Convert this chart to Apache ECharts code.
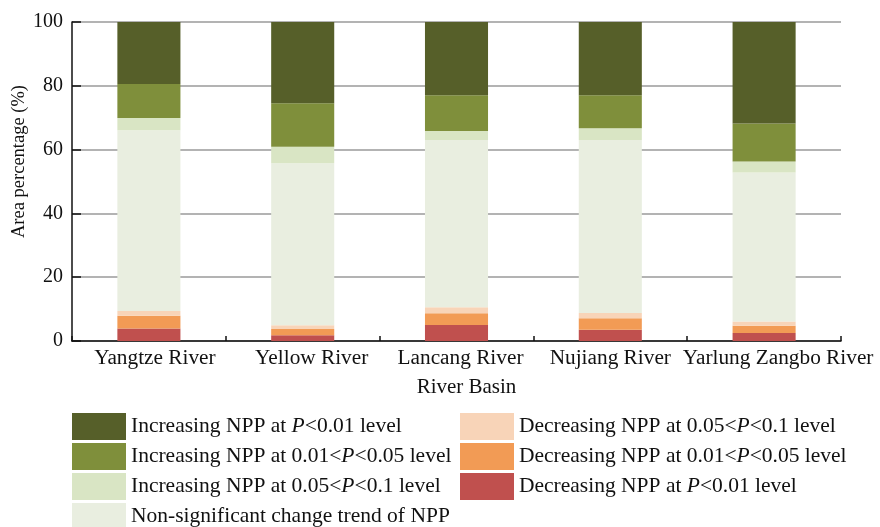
<!DOCTYPE html>
<html>
<head>
<meta charset="utf-8">
<script src="https://cdn.jsdelivr.net/npm/echarts@6/dist/echarts.min.js"></script>
<style>
  html, body { margin: 0; padding: 0; background: #fff; }
  #chart { width: 880px; height: 527px; }
</style>
</head>
<body>
<div id="chart"></div>
<script>
// Basins along the x axis
const basins = ['Yangtze River', 'Yellow River', 'Lancang River', 'Nujiang River', 'Yarlung Zangbo River'];

// Area share (%) of each NPP trend class per basin, stacked bottom to top
const decP001   = [3.9, 1.8, 5.0, 3.5, 2.5];
const decP005   = [4.0, 2.0, 3.7, 3.6, 2.3];
const decP01    = [1.5, 1.1, 1.9, 1.7, 1.3];
const nonSig    = [56.7, 50.8, 52.4, 54.2, 46.7];
const incP01    = [3.8, 5.2, 2.8, 3.7, 3.5];
const incP005   = [10.7, 13.6, 11.2, 10.3, 11.9];
const incP001   = [19.4, 25.5, 23.0, 23.0, 31.8];

const yTicks = [0, 20, 40, 60, 80, 100];

// Series names (legend text, with italic P)
const names = {
  incP001: 'Increasing NPP at {i|P}<0.01 level',
  incP005: 'Increasing NPP at 0.01<{i|P}<0.05 level',
  incP01:  'Increasing NPP at 0.05<{i|P}<0.1 level',
  nonSig:  'Non-significant change trend of NPP',
  decP01:  'Decreasing NPP at 0.05<{i|P}<0.1 level',
  decP005: 'Decreasing NPP at 0.01<{i|P}<0.05 level',
  decP001: 'Decreasing NPP at {i|P}<0.01 level'
};

const colors = {
  incP001: '#565f29',
  incP005: '#7f8f3b',
  incP01:  '#d9e5c4',
  nonSig:  '#e9eee0',
  decP01:  '#f8d4b8',
  decP005: '#f29b55',
  decP001: '#c0504e'
};

const stackOrder = [
  ['decP001', decP001], ['decP005', decP005], ['decP01', decP01],
  ['nonSig', nonSig], ['incP01', incP01], ['incP005', incP005], ['incP001', incP001]
];

const font = '"Liberation Serif", "Times New Roman", serif';

// Small rightward nudges (px) for the category labels
const labelNudge = [6, 9, 4, 0, 14];
const labelRich = {};
labelNudge.forEach((d, i) => {
  labelRich['c' + i] = {
    fontFamily: font, fontSize: 21.3, color: '#111',
    padding: [0, 0, 0, d * 2]
  };
});

const series = stackOrder.map(([key, vals]) => ({
  name: names[key],
  type: 'bar',
  stack: 'area',
  barWidth: '41%',
  data: vals,
  itemStyle: { color: colors[key] },
  emphasis: { disabled: true }
}));

const legendText = {
  fontFamily: font, fontSize: 21.5, color: '#111',
  rich: { i: { fontFamily: font, fontSize: 21.5, fontStyle: 'italic', color: '#111' } }
};

const legendBase = {
  orient: 'vertical', top: 413, height: 130, padding: 0,
  itemWidth: 54, itemHeight: 27, itemGap: 3, itemTextGap: 4, icon: 'rect',
  textStyle: legendText
};

const chart = echarts.init(document.getElementById('chart'), null, { renderer: 'canvas' });
chart.setOption({
  animation: false,
  backgroundColor: '#fff',
  grid: { left: 72, right: 39, top: 22, bottom: 186, containLabel: false, outerBoundsMode: 'none' },
  legend: [
    Object.assign({}, legendBase, {
      left: 72,
      data: [names.incP001, names.incP005, names.incP01, names.nonSig]
    }),
    Object.assign({}, legendBase, {
      left: 460,
      data: [names.decP01, names.decP005, names.decP001]
    })
  ],
  xAxis: [
    {
      type: 'category',
      data: basins,
      name: 'River Basin',
      nameLocation: 'middle',
      nameGap: 36,
      nameMoveOverlap: false,
      nameTextStyle: { fontFamily: font, fontSize: 21, color: '#111', padding: [0, 0, 0, 20] },
      axisLine: { lineStyle: { color: '#111', width: 1.5 } },
      axisTick: { alignWithLabel: true, inside: true, length: 10, lineStyle: { color: '#111', width: 1.5 } },
      axisLabel: {
        fontFamily: font, fontSize: 21.3, color: '#111', margin: 7, interval: 0,
        formatter: (v, i) => '{c' + i + '|' + v + '}',
        rich: labelRich
      },
      splitLine: { show: false }
    },
    {
      type: 'category',
      data: basins,
      position: 'bottom',
      axisLine: { show: false },
      axisTick: { show: true, inside: true, length: 5, lineStyle: { color: '#111', width: 1.5 } },
      axisLabel: { show: false },
      splitLine: { show: false }
    }
  ],
  yAxis: {
    type: 'value',
    min: yTicks[0],
    max: yTicks[yTicks.length - 1],
    interval: 20,
    name: 'Area percentage (%)',
    nameLocation: 'middle',
    nameGap: 43,
    nameMoveOverlap: false,
    nameTextStyle: { fontFamily: font, fontSize: 18.5, color: '#111', padding: [0, 0, 0, 40] },
    axisLine: { show: true, lineStyle: { color: '#111', width: 1.5 } },
    axisTick: { show: true, inside: true, length: 9, lineStyle: { color: '#111', width: 1.5 } },
    axisLabel: { fontFamily: font, fontSize: 20, color: '#111', margin: 9 },
    splitLine: { show: true, lineStyle: { color: '#9a9a9a', width: 1.5 } }
  },
  series: series
});
</script>
</body>
</html>
